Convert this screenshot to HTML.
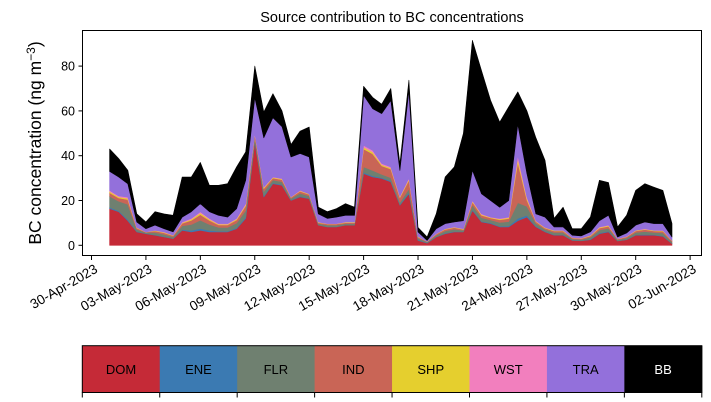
<!DOCTYPE html>
<html><head><meta charset="utf-8"><style>
body{margin:0;background:#fff;}
svg{display:block;font-family:"Liberation Sans","DejaVu Sans",sans-serif;}
</style></head><body>
<svg id="c" width="711" height="402" viewBox="0 0 711 402">
<text x="392" y="22" text-anchor="middle" font-size="14.5">Source contribution to BC concentrations</text>
<g id="areas"></g>
<rect x="82.5" y="30.5" width="619" height="225" fill="none" stroke="#000" stroke-width="1"/>
<g id="yax"></g>
<g id="xax"></g>
<text transform="translate(41,143) rotate(-90)" text-anchor="middle" font-size="17.5">BC concentration (ng m<tspan dy="-6" font-size="12">−3</tspan><tspan dy="6">)</tspan></text>
<g id="legend"></g>
</svg>
<script>
const sources = ["DOM","ENE","FLR","IND","SHP","WST","TRA","BB"];
const colors = ["#c52a37","#3b7ab2","#6f8070","#c96556","#e5cf2e","#f27fbe","#9370db","#000000"];
const startDay = 1, stepDay = 0.5;
const DOM = [16.4,15,11,6,5.2,4.5,3.7,3,6.7,6,6.7,6,6,6,7.4,12,46,21.6,27.5,26.8,20,21.6,20.8,9,8.2,8.2,9,9,32,30.5,29.8,28.3,17.9,23,2.2,1,3.7,5.2,6,6,15.6,10.4,9.7,8.2,8.2,11,12.6,8.2,6,4.5,4.5,2.2,2,2.5,5.2,6,1.9,2.5,4.5,4.5,4.5,4,0.7];
const ENE = [0.5,0.4,0.5,0.2,0.1,0.2,0.2,0.1,0.3,0.6,0.8,0.6,0.3,0.3,0.4,0.6,0.4,0.4,0.3,0.3,0.2,0.3,0.2,0.1,0.1,0.1,0.1,0.1,0.5,0.5,0.4,0.4,0.3,0.6,0.2,0.1,0.1,0.2,0.2,0.1,0.4,0.3,0.3,0.3,0.4,1.0,0.8,0.3,0.2,0.2,0.2,0.1,0.1,0.2,0.3,0.3,0.1,0.1,0.2,0.3,0.2,0.3,0.1];
const FLR = [5.0,4.3,6.8,0.9,0.4,1.0,1.0,0.7,1.7,2.7,3.7,2.7,1.7,1.7,2.1,3.0,1.8,2.0,1.3,1.3,0.7,1.3,1.0,0.6,0.7,0.7,0.6,0.6,2.5,2.4,1.5,1.5,1.0,1.6,0.8,0.4,0.7,1.0,1.0,0.6,2.0,1.6,1.3,1.7,2.0,7.0,4.0,1.3,0.9,1.0,1.0,0.6,0.5,0.9,1.3,1.3,0.5,0.7,1.0,1.3,1.0,1.2,0.7];
const IND = [1.6,1.4,2.1,0.6,0.2,0.7,0.7,0.5,1.1,1.8,2.5,1.8,1.1,1.1,1.4,2.0,1.2,1.3,0.9,0.9,0.5,0.9,0.7,0.4,0.5,0.5,0.4,0.4,8.0,7.4,3.8,3.8,2.1,3.8,0.5,0.2,0.5,0.7,0.7,0.4,1.3,1.1,0.9,1.2,1.3,18,2.8,0.8,0.6,0.7,0.7,0.4,0.4,0.6,0.9,0.9,0.3,0.5,0.7,0.9,0.7,0.8,0.5];
const SHP = [0.5,0.5,0.6,0.2,0.05,0.2,0.2,0.1,0.3,0.5,0.7,0.5,0.3,0.3,0.4,0.5,0.3,0.4,0.3,0.3,0.1,0.2,0.2,0.2,0.1,0.1,0.2,0.2,0.8,0.8,0.5,0.5,0.3,0.5,0.2,0.05,0.1,0.2,0.2,0.2,0.4,0.3,0.2,0.3,0.4,1.5,0.7,0.2,0.2,0.2,0.2,0.1,0.1,0.2,0.3,0.3,0.1,0.1,0.2,0.2,0.2,0.2,0.1];
const WST = [0.5,0.4,0.5,0.1,0.05,0.1,0.2,0.1,0.3,0.4,0.6,0.4,0.3,0.3,0.3,0.5,0.3,0.3,0.2,0.2,0.1,0.2,0.1,0.1,0.1,0.1,0.1,0.1,0.8,0.8,0.5,0.5,0.3,0.5,0.1,0.05,0.1,0.1,0.1,0.1,0.3,0.3,0.2,0.3,0.3,1.5,0.7,0.2,0.1,0.1,0.1,0.1,0.1,0.1,0.2,0.2,0.1,0.1,0.1,0.2,0.1,0.2,0.1];
const TRA = [8.5,8.5,6,2.4,1.4,2.3,1.4,1.5,2.2,3,3.6,3,3.7,2.9,4.4,10.4,16,22,26.5,23.2,17.8,16.5,16.4,3.6,2.3,2.9,3,3,22.4,18.6,22.3,29.7,11.5,39,2,0.4,2.2,2.3,2.2,3.6,13.5,9,7.4,5,7.4,14,10.4,3,4.6,1.5,1.5,1,1,1.5,2.8,4.4,0.7,1.5,2.3,3,3,3,1.5];
const BB = [10,8.2,6,3.6,3,6,6.6,7.4,17.9,15.5,18.4,11.8,13.4,14.9,18.6,12.7,14,11.5,10.7,7,5.6,10,13.4,3,3,3.8,5.2,3.6,4,5,4.2,5.3,3,4.7,2,1.5,6.6,20.8,24.6,39,58,55,44.7,38,41.8,14.5,28,34,25.4,3.8,8.8,2.9,3.2,6.6,18,14.6,4.5,7.9,15.5,17.1,16.3,14.8,6];
const series = [DOM,ENE,FLR,IND,SHP,WST,TRA,BB];
const yTicks = [0,20,40,60,80];
const xTickLabels = ["30-Apr-2023","03-May-2023","06-May-2023","09-May-2023","12-May-2023","15-May-2023","18-May-2023","21-May-2023","24-May-2023","27-May-2023","30-May-2023","02-Jun-2023"];
const xTickDays = [0,3,6,9,12,15,18,21,24,27,30,33];

const NS="http://www.w3.org/2000/svg";
const xS = d => 91.5 + 18.14*d;
const yS = v => 245.3 - v*2.24;
function mk(t,a,p){const e=document.createElementNS(NS,t);for(const k in a)e.setAttribute(k,a[k]);p.appendChild(e);return e;}

const n = DOM.length;
const days = []; for(let i=0;i<n;i++) days.push(startDay + i*stepDay);
const cum = new Array(n).fill(0);
const areas = document.getElementById('areas');
series.forEach((s,k)=>{
  const lower = cum.slice();
  for(let i=0;i<n;i++) cum[i]+=s[i];
  let pts=[];
  for(let i=0;i<n;i++) pts.push(xS(days[i]).toFixed(1)+","+yS(cum[i]).toFixed(1));
  for(let i=n-1;i>=0;i--) pts.push(xS(days[i]).toFixed(1)+","+yS(lower[i]).toFixed(1));
  const p = mk('polygon',{points:pts.join(' '),fill:colors[k],stroke:colors[k],'stroke-width':'0.6','stroke-linejoin':'round'},areas);
  
  
});

const yax=document.getElementById('yax');
yTicks.forEach(v=>{
  const y=yS(v);
  const l=mk('line',{x1:78.5,x2:82.5,y1:y,y2:y,stroke:'#000'},yax);
  
  
  const t=mk('text',{x:75,y:y+4.5,'text-anchor':'end','font-size':'12.5'},yax);
  t.textContent=v;
  
  
});
const xax=document.getElementById('xax');
xTickDays.forEach((d,i)=>{
  const x=xS(d);
  const l=mk('line',{x1:x,x2:x,y1:255.5,y2:260,stroke:'#000'},xax);
  
  
  const t=mk('text',{transform:`translate(${x+2},${263}) rotate(-30)`,'text-anchor':'end','font-size':'13.5',dy:'10'},xax);
  t.textContent=xTickLabels[i];
  
  
});

const lg=document.getElementById('legend');
const lx=82.3, lw=619.5/8, ly=345.7, lh=46.8;
sources.forEach((s,k)=>{
  const r=mk('rect',{x:lx+k*lw,y:ly,width:lw+0.5,height:lh,fill:colors[k]},lg);
  
  
  const t=mk('text',{x:lx+k*lw+lw/2,y:ly+lh/2+5,'text-anchor':'middle','font-size':'13',fill:k===7?'#fff':'#000'},lg);
  t.textContent=s;
  
  
});
for(let k=0;k<=8;k++){
  const x=lx+k*lw;
  const l=mk('line',{x1:x,x2:x,y1:ly+lh,y2:ly+lh+5,stroke:'#000'},lg);
  
  
}
const fr=mk('rect',{x:lx,y:ly,width:lw*8,height:lh,fill:'none',stroke:'#000','stroke-width':'1'},lg);


</script>
</body></html>
